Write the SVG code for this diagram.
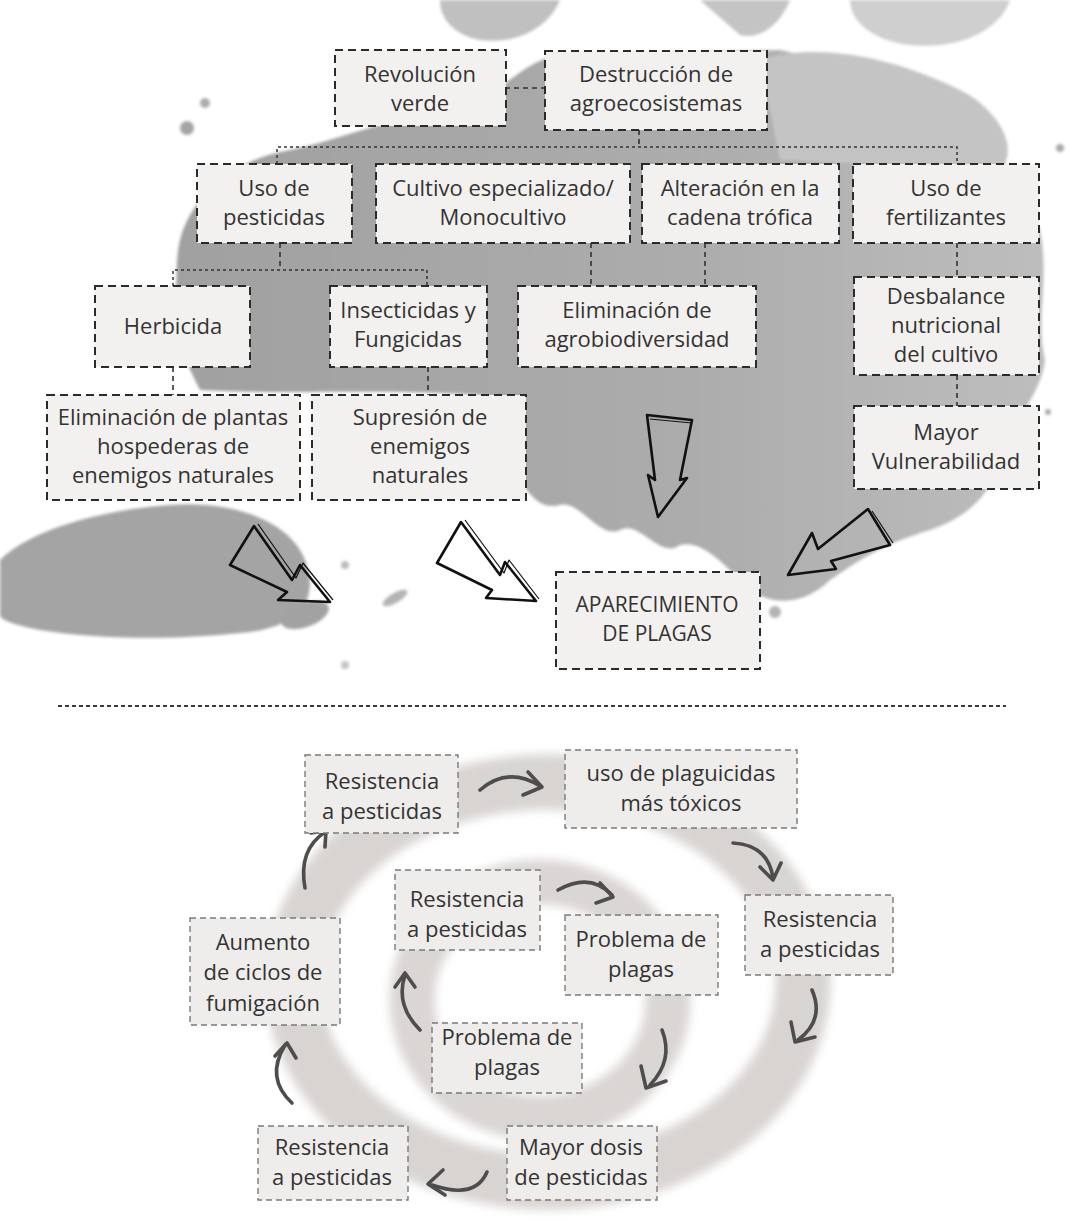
<svg xmlns="http://www.w3.org/2000/svg" width="1083" height="1225" viewBox="0 0 1083 1225">
<defs>
<style>
.t{font-family:"Open Sans","Noto Sans","Liberation Sans",sans-serif;font-size:22px;fill:#333;text-anchor:middle}
.b1{fill:#f3f1ef;stroke:#2b2b2b;stroke-width:2;stroke-dasharray:8 5}
.b2{fill:#efedec;stroke:#7a7a7a;stroke-width:1.4;stroke-dasharray:6 4}
.c{fill:none;stroke:#333;stroke-width:1.6;stroke-dasharray:5 4}
.cf{fill:none;stroke:#333;stroke-width:1.5;stroke-dasharray:3 3}
.big{fill:none;stroke:#111;stroke-width:2.6;stroke-linejoin:round}
.big2{fill:none;stroke:#111;stroke-width:1.2;stroke-linejoin:round}
.ca{fill:none;stroke:#4d4d4d;stroke-width:3.6;stroke-linecap:round;stroke-linejoin:round}
</style>
<linearGradient id="ink" x1="0" y1="0" x2="1" y2="0">
<stop offset="0" stop-color="#a0a0a0"/>
<stop offset="0.6" stop-color="#acacac"/>
<stop offset="1" stop-color="#bdbdbd"/>
</linearGradient>
<filter id="soft" x="-10%" y="-10%" width="120%" height="120%"><feGaussianBlur stdDeviation="5"/></filter>
<filter id="soft2" x="-10%" y="-10%" width="120%" height="120%"><feGaussianBlur stdDeviation="1.5"/></filter>
</defs>
<rect width="1083" height="1225" fill="#ffffff"/>
<g id="splash" filter="url(#soft2)">
<path fill="url(#ink)" d="M 180,240 C 190,200 230,160 290,150 C 340,140 380,120 450,110 C 500,100 520,60 560,55 L 780,50 C 830,60 870,90 930,110 C 980,125 1020,170 1040,230 C 1050,280 1035,320 1045,360 C 1040,400 1010,420 1000,460 C 990,500 960,520 930,530 C 880,545 860,560 830,580 C 800,610 760,605 740,580 C 720,560 700,540 680,545 C 660,560 640,520 620,530 C 600,540 580,500 560,505 C 540,510 530,495 520,480 L 520,400 C 460,390 360,392 300,392 C 270,392 240,392 200,390 C 185,360 170,330 175,300 C 178,275 175,260 180,240 Z"/>
<path fill="#c4c4c4" d="M 760,60 C 820,40 900,60 960,90 C 1000,110 1020,150 1000,170 L 780,160 Z"/>
<path fill="#a4a4a4" d="M 0,560 C 30,530 100,510 170,505 C 230,500 290,520 305,560 C 320,600 300,625 250,632 C 180,640 100,640 40,630 C 15,625 0,620 0,615 Z"/>
<path fill="#c0c0c0" d="M 440,0 L 560,0 C 550,25 520,45 480,40 C 455,35 440,20 440,0 Z"/>
<path fill="#cfcfcf" d="M 850,0 L 1010,0 C 1000,30 960,50 910,45 C 870,40 850,20 850,0 Z"/>
<path fill="#c4c4c4" d="M 700,0 L 790,0 C 780,25 760,40 740,35 Z"/>
<ellipse cx="305" cy="615" rx="25" ry="12" fill="#a2a2a2" transform="rotate(-20 305 615)"/>
<ellipse cx="395" cy="598" rx="14" ry="5" fill="#b4b4b4" transform="rotate(-30 395 598)"/>
<circle cx="205" cy="103" r="5" fill="#acacac"/>
<circle cx="187" cy="128" r="7" fill="#a4a4a4"/>
<circle cx="345" cy="565" r="4" fill="#bcbcbc"/>
<circle cx="1048" cy="412" r="3" fill="#aaa"/>
<circle cx="775" cy="612" r="6" fill="#b4b4b4"/>
<circle cx="345" cy="665" r="4" fill="#c4c4c4"/>
<circle cx="1060" cy="148" r="4" fill="#aaa"/>
</g>
<g id="rings" filter="url(#soft)">
<ellipse cx="548" cy="982" rx="255" ry="200" fill="none" stroke="#d8d4d2" stroke-width="55"/>
<ellipse cx="540" cy="1000" rx="128" ry="118" fill="none" stroke="#dad6d4" stroke-width="45"/>
</g>
<g id="connectors">
<path class="c" d="M 505,88 L 545,88"/>
<path class="c" d="M 639,130 L 639,147"/>
<path class="cf" d="M 277,164 L 277,147 L 957,147 L 957,164"/>
<path class="c" d="M 280,243 L 280,270"/>
<path class="cf" d="M 173,286 L 173,270 L 427,270 L 427,286"/>
<path class="c" d="M 591,243 L 591,286"/>
<path class="c" d="M 705,243 L 705,286"/>
<path class="c" d="M 957,243 L 957,277"/>
<path class="c" d="M 173,367 L 173,395"/>
<path class="c" d="M 428,367 L 428,395"/>
<path class="c" d="M 957,375 L 957,406"/>
<path fill="none" stroke="#3a3a3a" stroke-width="2" stroke-dasharray="4 3" d="M 58,706 L 1006,706"/>
<g id="big-arrows">
<path class="big" d="M 254,526 L 292,580 L 300,565 L 330,602 L 278,600 L 287,592 L 230,565 Z"/>
<path class="big2" d="M 258,524 L 296,578 L 303,563 L 333,600"/>
<path class="big" d="M 461,522 L 500,575 L 505,562 L 536,601 L 486,598 L 492,590 L 437,563 Z"/>
<path class="big2" d="M 465,520 L 504,573 L 509,560 L 539,599"/>
<path class="big" d="M 647,415 L 692,420 L 680,480 L 687,478 L 658,517 L 648,475 L 655,480 Z"/>
<path class="big2" d="M 650,419 L 692,423"/>
<path class="big" d="M 868,509 L 818,549 L 812,533 L 788,575 L 836,569 L 831,561 L 890,545 Z"/>
<path class="big2" d="M 872,511 L 893,543"/>
</g>
<g id="cycle-arrows">
<path class="ca" d="M 480,790 Q 508,766 540,786"/><path class="ca" d="M 528,772 L 542,787 L 523,795"/>
<path class="ca" d="M 733,843 Q 768,845 773,878"/><path class="ca" d="M 760,867 L 773,880 L 781,863"/>
<path class="ca" d="M 558,890 Q 590,872 612,895"/><path class="ca" d="M 600,883 L 613,897 L 596,903"/>
<path class="ca" d="M 812,990 Q 825,1020 798,1040"/><path class="ca" d="M 791,1022 L 795,1042 L 815,1037"/>
<path class="ca" d="M 662,1030 Q 674,1060 650,1085"/><path class="ca" d="M 641,1066 L 646,1088 L 666,1081"/>
<path class="ca" d="M 487,1172 Q 475,1200 432,1185"/><path class="ca" d="M 443,1170 L 428,1184 L 445,1195"/>
<path class="ca" d="M 292,1103 Q 265,1078 285,1045"/><path class="ca" d="M 275,1056 L 287,1043 L 296,1058"/>
<path class="ca" d="M 305,888 Q 298,850 325,832"/><path class="ca" d="M 311,833 L 326,831 L 325,847"/>
<path class="ca" d="M 420,1030 Q 395,1005 405,975"/><path class="ca" d="M 395,987 L 405,973 L 415,987"/>
</g>
</g>
<g id="n-revolucion"><rect class="b1" x="335" y="50" width="171" height="76"/><text class="t" x="420" y="82">Revolución</text><text class="t" x="420" y="111">verde</text></g>
<g id="n-destruccion"><rect class="b1" x="545" y="51" width="222" height="79"/><text class="t" x="656" y="82">Destrucción de</text><text class="t" x="656" y="111">agroecosistemas</text></g>
<g id="n-uso-pesticidas"><rect class="b1" x="197" y="164" width="155" height="79"/><text class="t" x="274" y="196">Uso de</text><text class="t" x="274" y="225">pesticidas</text></g>
<g id="n-cultivo"><rect class="b1" x="376" y="164" width="254" height="79"/><text class="t" x="503" y="196">Cultivo especializado/</text><text class="t" x="503" y="225">Monocultivo</text></g>
<g id="n-alteracion"><rect class="b1" x="642" y="164" width="197" height="79"/><text class="t" x="740" y="196">Alteración en la</text><text class="t" x="740" y="225">cadena trófica</text></g>
<g id="n-fertilizantes"><rect class="b1" x="853" y="164" width="186" height="79"/><text class="t" x="946" y="196">Uso de</text><text class="t" x="946" y="225">fertilizantes</text></g>
<g id="n-herbicida"><rect class="b1" x="95" y="286" width="155" height="81"/><text class="t" x="173" y="334">Herbicida</text></g>
<g id="n-insecticidas"><rect class="b1" x="330" y="286" width="157" height="81"/><text class="t" x="408" y="318">Insecticidas y</text><text class="t" x="408" y="347">Fungicidas</text></g>
<g id="n-agrobiodiversidad"><rect class="b1" x="518" y="286" width="238" height="81"/><text class="t" x="637" y="318">Eliminación de</text><text class="t" x="637" y="347">agrobiodiversidad</text></g>
<g id="n-desbalance"><rect class="b1" x="854" y="277" width="185" height="98"/><text class="t" x="946" y="304">Desbalance</text><text class="t" x="946" y="333">nutricional</text><text class="t" x="946" y="362">del cultivo</text></g>
<g id="n-eliminacion-plantas"><rect class="b1" x="47" y="395" width="253" height="105"/><text class="t" x="173" y="425">Eliminación de plantas</text><text class="t" x="173" y="454">hospederas de</text><text class="t" x="173" y="483">enemigos naturales</text></g>
<g id="n-supresion"><rect class="b1" x="312" y="395" width="214" height="105"/><text class="t" x="420" y="425">Supresión de</text><text class="t" x="420" y="454">enemigos</text><text class="t" x="420" y="483">naturales</text></g>
<g id="n-vulnerabilidad"><rect class="b1" x="854" y="406" width="185" height="83"/><text class="t" x="946" y="440">Mayor</text><text class="t" x="946" y="469">Vulnerabilidad</text></g>
<g id="n-aparecimiento"><rect class="b1" x="556" y="572" width="204" height="97"/><text class="t" x="657" y="612" style="font-size:21px">APARECIMIENTO</text><text class="t" x="657" y="641" style="font-size:21px">DE PLAGAS</text></g>
<g id="c-resistencia-1"><rect class="b2" x="305" y="755" width="153" height="78"/><text class="t" x="382" y="789">Resistencia</text><text class="t" x="382" y="819">a pesticidas</text></g>
<g id="c-plaguicidas"><rect class="b2" x="565" y="750" width="232" height="78"/><text class="t" x="681" y="781">uso de plaguicidas</text><text class="t" x="681" y="811">más tóxicos</text></g>
<g id="c-resistencia-2"><rect class="b2" x="395" y="870" width="145" height="80"/><text class="t" x="467" y="907">Resistencia</text><text class="t" x="467" y="937">a pesticidas</text></g>
<g id="c-problema-1"><rect class="b2" x="565" y="915" width="153" height="80"/><text class="t" x="641" y="947">Problema de</text><text class="t" x="641" y="977">plagas</text></g>
<g id="c-resistencia-3"><rect class="b2" x="745" y="895" width="148" height="80"/><text class="t" x="820" y="927">Resistencia</text><text class="t" x="820" y="957">a pesticidas</text></g>
<g id="c-aumento"><rect class="b2" x="190" y="918" width="150" height="107"/><text class="t" x="263" y="950">Aumento</text><text class="t" x="263" y="980">de ciclos de</text><text class="t" x="263" y="1011">fumigación</text></g>
<g id="c-problema-2"><rect class="b2" x="432" y="1023" width="150" height="70"/><text class="t" x="507" y="1045">Problema de</text><text class="t" x="507" y="1075">plagas</text></g>
<g id="c-resistencia-4"><rect class="b2" x="258" y="1126" width="150" height="74"/><text class="t" x="332" y="1155">Resistencia</text><text class="t" x="332" y="1185">a pesticidas</text></g>
<g id="c-mayor-dosis"><rect class="b2" x="507" y="1126" width="150" height="74"/><text class="t" x="581" y="1155">Mayor dosis</text><text class="t" x="581" y="1185">de pesticidas</text></g>
</svg>
